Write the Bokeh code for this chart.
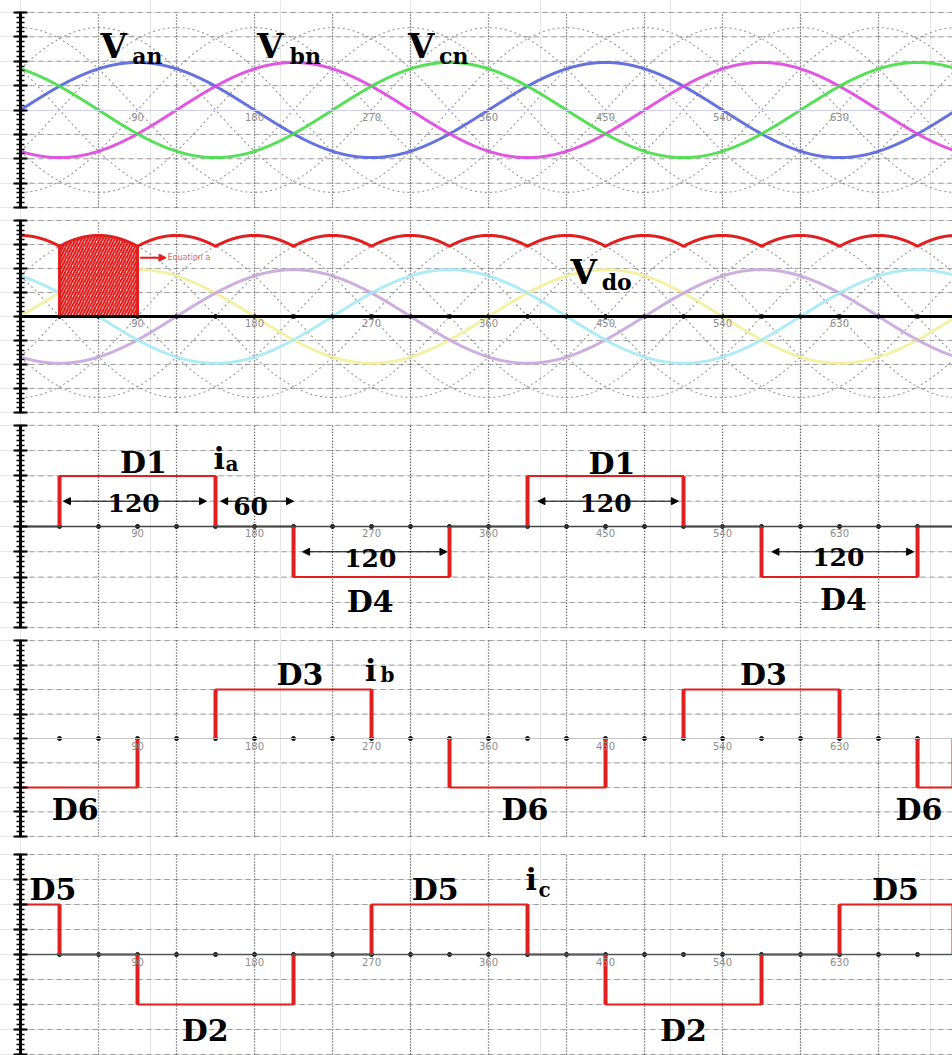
import numpy as np
from bokeh.plotting import figure
from bokeh.layouts import column
from bokeh.models import Range1d, LinearAxis, FixedTicker, Label, Arrow, NormalHead
from bokeh.embed import file_html
from bokeh.resources import INLINE

# ---------------- data ----------------
# phase voltages v = peak * sin(theta + shift), theta in electrical degrees
phase_names = ["an", "bn", "cn"]
phase_shift_deg = [0, -120, 120]
phase_peak = 1.95

# numbered angle ticks on the zero line and the dots every 30 degrees
angle_ticks = [90, 180, 270, 360, 450, 540, 630, 720]
dot_angles = [30, 60, 90, 120, 150, 180, 210, 240, 270, 300, 330, 360,
              390, 420, 450, 480, 510, 540, 570, 600, 630, 660, 690, 720]

# diode conduction intervals (degrees) and current level for each phase
ia_diode = ["D1", "D4", "D1", "D4"]
ia_on = [30, 210, 390, 570]
ia_off = [150, 330, 510, 690]
ia_level = [2, -2, 2, -2]

ib_diode = ["D6", "D3", "D6", "D3", "D6"]
ib_on = [-30, 150, 330, 510, 690]
ib_off = [90, 270, 450, 630, 810]
ib_level = [-2, 2, -2, 2, -2]

ic_diode = ["D5", "D2", "D5", "D2", "D5"]
ic_on = [-90, 90, 270, 450, 630]
ic_off = [30, 210, 390, 570, 750]
ic_level = [2, -2, 2, -2, 2]

# one 60-degree segment of the output voltage that is shaded
shade_from, shade_to = 30, 90

# ---------------- helpers ----------------
X_START, X_END = -15.4, 716.9
W, H = 952, 211
RED = "#e21f1f"
SERIF = "DejaVu Serif"

theta = np.linspace(0, X_END, 2000)


def phase_wave(ang, k):
    return phase_peak * np.sin(np.radians(np.asarray(ang) + phase_shift_deg[k]))


def line_waves(ang):
    waves = []
    for i in range(3):
        for j in range(3):
            if i != j:
                waves.append(phase_wave(ang, i) - phase_wave(ang, j))
    return waves


def rectified(ang):
    return np.max(np.vstack(line_waves(ang)), axis=0)


def make_panel(y_lo, y_hi, zero_color, zero_width, dots=True):
    p = figure(width=W, height=H, x_range=Range1d(X_START, X_END),
               y_range=Range1d(y_lo, y_hi), x_axis_location=None,
               y_axis_location=None, toolbar_location=None,
               output_backend="svg", min_border=0, outline_line_color=None,
               background_fill_color="white", border_fill_color="white")
    gy = [-4, -3, -2, -1, 1, 2, 3, 4]
    p.segment(x0=0, y0=gy, x1=X_END, y1=gy, line_color="#9c9c9c",
              line_dash="5 4", line_width=1)
    gx = list(range(60, 721, 60))
    p.segment(x0=gx, y0=-4, x1=gx, y1=4, line_color="#3a3a3a",
              line_dash="1 2", line_width=1.3)

    # thick vertical axis with dense ticks (minor-only tickers, no labels)
    fine = LinearAxis(fixed_location=0, bounds=(-4, 4),
                      ticker=FixedTicker(ticks=[], minor_ticks=list(np.round(np.arange(-4, 4.01, 0.2), 2))),
                      axis_line_width=3, axis_line_color="black",
                      minor_tick_in=4, minor_tick_out=4, minor_tick_line_width=1.5,
                      minor_tick_line_color="black", major_tick_in=0, major_tick_out=0)
    p.add_layout(fine, "left")
    coarse = LinearAxis(fixed_location=0, bounds=(-4, 4),
                        ticker=FixedTicker(ticks=[], minor_ticks=list(range(-4, 5))),
                        axis_line_color=None, minor_tick_in=7, minor_tick_out=7,
                        minor_tick_line_width=2.2, minor_tick_line_color="black",
                        major_tick_in=0, major_tick_out=0)
    p.add_layout(coarse, "left")

    xax = LinearAxis(fixed_location=0, bounds=(0, 720),
                     ticker=FixedTicker(ticks=angle_ticks),
                     axis_line_color=zero_color, axis_line_width=zero_width,
                     major_tick_in=0, major_tick_out=0, minor_tick_in=0, minor_tick_out=0,
                     major_label_text_font_size="10px", major_label_text_color="#8c8c8c",
                     major_label_text_font="DejaVu Sans", major_label_standoff=3)
    p.add_layout(xax, "below")
    if dots:
        p.scatter(x=dot_angles, y=0, size=4, color="#111111")
    return p


def text(p, x, y, t, size, align="center", color="black", style="bold"):
    p.add_layout(Label(x=x, y=y, text=t, text_font=SERIF, text_font_size=f"{size}px",
                       text_font_style=style, text_color=color, text_align=align,
                       text_baseline="middle"))


def span_arrow(p, x0, x1, y):
    p.add_layout(Arrow(start=NormalHead(size=7, fill_color="black", line_color="black"),
                       end=NormalHead(size=7, fill_color="black", line_color="black"),
                       x_start=x0, y_start=y, x_end=x1, y_end=y,
                       line_color="black", line_width=1))


def clip(on, off):
    return max(on, 0), min(off, X_END)


def current_trace(p, on, off, level, along_zero=True):
    if along_zero:
        xs, ys = [0], [0]
        for s, e, l in zip(on, off, level):
            s_c, e_c = clip(s, e)
            if e_c <= 0 or s_c >= X_END:
                continue
            xs += [s_c, s_c, e_c, e_c]
            ys += [0, l, l, 0]
        xs.append(X_END)
        ys.append(0)
        p.line(xs, ys, line_color=RED, line_width=2)
    else:
        for s, e, l in zip(on, off, level):
            s_c, e_c = clip(s, e)
            if e_c <= 0 or s_c >= X_END:
                continue
            p.line([s_c, s_c, e_c, e_c], [0, l, l, 0], line_color=RED, line_width=2)
    edges_x, edges_y = [], []
    for s, e, l in zip(on, off, level):
        for edge in (s, e):
            if 0 < edge < X_END:
                edges_x.append(edge)
                edges_y.append(l)
    p.segment(x0=edges_x, y0=0, x1=edges_x, y1=edges_y, line_color=RED, line_width=4)


# ---------------- panel 1: phase voltages ----------------
p1 = make_panel(-4.16, 4.49, "#cfd0f2", 1.2, dots=False)
for w in line_waves(theta):
    p1.line(theta, w, line_color="#7a7a7a", line_dash="2 3", line_width=1.1, line_alpha=0.8)
phase_colors = ["#5564dc", "#dd45dd", "#45dc45"]
for k in range(3):
    p1.line(theta, phase_wave(theta, k), line_color=phase_colors[k], line_width=3, line_alpha=0.9)
for vx, sx, k in [(61.5, 86, 0), (182, 207, 1), (298, 322, 2)]:
    text(p1, vx, 2.62, "V", 34, align="left")
    text(p1, sx, 2.2, phase_names[k], 22, align="left")

# ---------------- panel 2: rectified output voltage ----------------
p2 = make_panel(-4.42, 4.375, "black", 3)
for w in line_waves(theta):
    p2.line(theta, w, line_color="#7a7a7a", line_dash="2 3", line_width=1.1, line_alpha=0.8)
faint = ["#f3ef9c", "#c7a6db", "#a6e9f3"]
for k in range(3):
    p2.line(theta, phase_wave(theta, k), line_color=faint[k], line_width=3, line_alpha=0.9)
vdo = rectified(theta)
sel = (theta >= shade_from) & (theta <= shade_to)
p2.varea(x=theta[sel], y1=0, y2=vdo[sel], fill_color="#f6b4b4", fill_alpha=0.5,
         hatch_pattern="/", hatch_color=RED, hatch_scale=6, hatch_weight=2.2)
edge_top = rectified(np.array([shade_from, shade_to]))
p2.segment(x0=[shade_from, shade_to], y0=0, x1=[shade_from, shade_to], y1=edge_top,
           line_color=RED, line_width=3)
p2.line(theta, vdo, line_color=RED, line_width=3)
p2.add_layout(Arrow(end=NormalHead(size=7, fill_color=RED, line_color=RED),
                    x_start=92, y_start=2.45, x_end=112, y_end=2.45,
                    line_color=RED, line_width=2))
p2.add_layout(Label(x=113, y=2.45, text="Equation a", text_font="DejaVu Sans",
                    text_font_size="8px", text_color="#e06a6a", text_baseline="middle"))
text(p2, 423, 1.87, "V", 34, align="left")
text(p2, 447, 1.45, "do", 22, align="left")

# ---------------- panel 3: i_a ----------------
p3 = make_panel(-4.23, 4.11, "#444444", 1.5)
current_trace(p3, ia_on, ia_off, ia_level)
text(p3, 94.6, 2.51, ia_diode[0], 30)
text(p3, 148.5, 2.7, "i", 30, align="left")
text(p3, 157.7, 2.45, "a", 20, align="left")
span_arrow(p3, 33, 143, 1)
text(p3, 87, 0.93, "120", 25)
span_arrow(p3, 154, 210, 1)
text(p3, 177, 0.8, "60", 25)
span_arrow(p3, 217, 328, -1)
text(p3, 269, -1.24, "120", 25)
text(p3, 269, -2.96, ia_diode[1], 30)
text(p3, 455, 2.5, ia_diode[2], 30)
span_arrow(p3, 398, 506, 1)
text(p3, 450, 0.93, "120", 25)
span_arrow(p3, 578, 687, -1)
text(p3, 629, -1.2, "120", 25)
text(p3, 633, -2.9, ia_diode[3], 30)

# ---------------- panel 4: i_b ----------------
p4 = make_panel(-4.33, 4.29, "#c4c4c4", 1)
current_trace(p4, ib_on, ib_off, ib_level, along_zero=False)
text(p4, 215, 2.61, ib_diode[1], 30)
text(p4, 265, 2.78, "i", 30, align="left")
text(p4, 277, 2.6, "b", 20, align="left")
text(p4, 42, -2.9, ib_diode[0], 30)
text(p4, 388, -2.9, ib_diode[2], 30)
text(p4, 571.5, 2.61, ib_diode[3], 30)
text(p4, 691, -2.9, ib_diode[4], 30)

# ---------------- panel 5: i_c ----------------
p5 = make_panel(-4.04, 4.4, "#555555", 1.5)
current_trace(p5, ic_on, ic_off, ic_level)
text(p5, 25, 2.6, ic_diode[0], 30)
text(p5, 142, -3.04, ic_diode[1], 30)
text(p5, 319, 2.6, ic_diode[2], 30)
text(p5, 388.5, 3.0, "i", 30, align="left")
text(p5, 398.5, 2.6, "c", 20, align="left")
text(p5, 510, -3.04, ic_diode[3], 30)
text(p5, 673, 2.6, ic_diode[4], 30)

page = column(p1, p2, p3, p4, p5, spacing=0)
open("out.html", "w").write(file_html(page, INLINE))
